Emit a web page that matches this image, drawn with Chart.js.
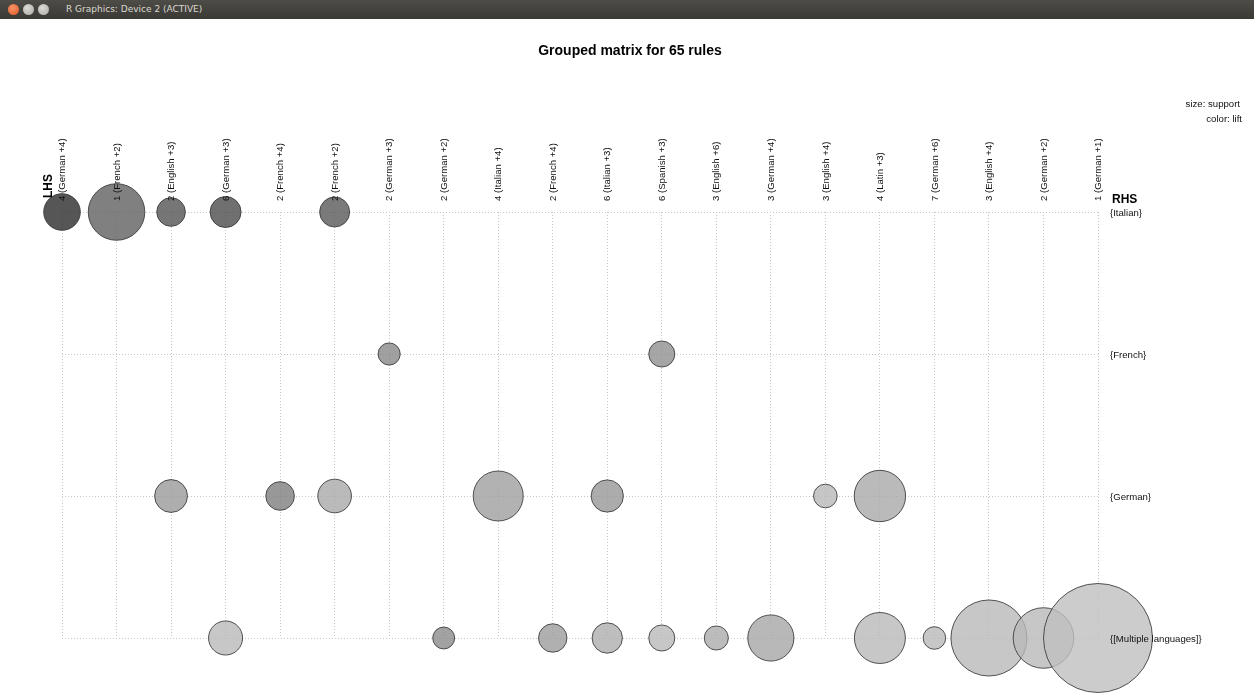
<!DOCTYPE html>
<html>
<head>
<meta charset="utf-8">
<title>Grouped matrix for 65 rules</title>
<script src="https://cdn.jsdelivr.net/npm/chart.js@4.4.1/dist/chart.umd.min.js"></script>
<style>
  html, body { margin: 0; padding: 0; background: #ffffff; }
  #wrap { position: relative; width: 1254px; height: 694px; overflow: hidden; }
  #bar {
    position: absolute; left: 0; top: 0; width: 1254px; height: 19px;
    background: linear-gradient(#4d4c47, #3a3935);
    font: 9px "DejaVu Sans", sans-serif; color: #dcd9d0;
  }
  #bar .btn { position: absolute; top: 4px; width: 11px; height: 11px; border-radius: 50%; }
  #bar .close { left: 8px; background: radial-gradient(circle at 40% 35%, #f7936a, #e0571f); }
  #bar .min { left: 23px; background: radial-gradient(circle at 40% 35%, #dcdbd6, #a9a8a2); }
  #bar .max { left: 38px; background: radial-gradient(circle at 40% 35%, #dcdbd6, #a9a8a2); }
  #bar .cap { position: absolute; left: 66px; top: 4px; }
  canvas { position: absolute; left: 0; top: 0; }
</style>
</head>
<body>
<div id="wrap">
  <canvas id="c" width="1254" height="694"></canvas>
  <div id="bar"><span class="btn close"></span><span class="btn min"></span><span class="btn max"></span><span class="cap">R Graphics: Device 2 (ACTIVE)</span></div>
</div>
<script>
// LHS groups (columns) and RHS items (rows)
const lhsLabels = [
  "4 (German +4)", "1 (French +2)", "2 (English +3)", "6 (German +3)", "2 (French +4)",
  "2 (French +2)", "2 (German +3)", "2 (German +2)", "4 (Italian +4)", "2 (French +4)",
  "6 (Italian +3)", "6 (Spanish +3)", "3 (English +6)", "3 (German +4)", "3 (English +4)",
  "4 (Latin +3)", "7 (German +6)", "3 (English +4)", "2 (German +2)", "1 (German +1)"
];
const rhsLabels = ["{Italian}", "{French}", "{German}", "{[Multiple languages]}"];

// Rule groups per RHS: column index, support, lift
const italianCols    = [0, 1, 2, 3, 5];
const italianSupport = [0.00134, 0.0032, 0.00082, 0.00096, 0.0009];
const italianLift    = [3.95, 2.9, 3.15, 3.3, 3.05];

const frenchCols    = [6, 11];
const frenchSupport = [0.00049, 0.00068];
const frenchLift    = [2.1, 1.95];

const germanCols    = [2, 4, 5, 8, 10, 14, 15];
const germanSupport = [0.00108, 0.00082, 0.00113, 0.0025, 0.00104, 0.00056, 0.00264];
const germanLift    = [1.75, 2.3, 1.45, 1.65, 1.8, 1.15, 1.45];

const multiCols    = [3, 7, 9, 10, 11, 12, 13, 15, 16, 17, 18, 19];
const multiSupport = [0.00116, 0.00048, 0.00081, 0.00092, 0.00068, 0.00058, 0.00213, 0.0026, 0.00051, 0.00578, 0.00367, 0.01188];
const multiLift    = [1.12, 2.05, 1.7, 1.35, 1.12, 1.4, 1.5, 1.12, 1.12, 1.12, 1.12, 1.0];

// size: support (area proportional), color: lift (darker = higher)
const SIZE_K = 500;
const FILL_ALPHA = 0.8;
function radiusOf(s) { return SIZE_K * Math.sqrt(s); }
function colorOf(lift) {
  const g = 204 - (lift - 1) * 40;             // shade as seen on white
  const base = Math.round(255 - (255 - g) / FILL_ALPHA);
  return `rgba(${base},${base},${base},${FILL_ALPHA})`;
}
function rowDataset(rowIdx, cols, support, lift) {
  return {
    data: cols.map((c, i) => ({ x: c, y: rowIdx, r: radiusOf(support[i]) })),
    backgroundColor: lift.map(colorOf),
    borderColor: 'rgba(55,55,55,0.85)',
    borderWidth: 1,
    clip: false
  };
}

const FONT = '"Liberation Sans", Arial, sans-serif';

const matrixText = {
  id: 'matrixText',
  afterDatasetsDraw(chart) {
    const ctx = chart.ctx;
    const xs = chart.scales.x, ys = chart.scales.y;
    ctx.save();
    // title
    ctx.fillStyle = '#000';
    ctx.font = 'bold 14px ' + FONT;
    ctx.textAlign = 'center';
    ctx.textBaseline = 'alphabetic';
    ctx.fillText('Grouped matrix for 65 rules', 630, 55);

    // legend note
    ctx.font = '9.6px ' + FONT;
    ctx.fillStyle = '#111';
    ctx.textAlign = 'right';
    ctx.textBaseline = 'middle';
    ctx.fillText('size: support', 1240, 104);
    ctx.fillText('color: lift', 1242, 119);

    // column labels (LHS groups), rotated
    const top = chart.chartArea.top;
    lhsLabels.forEach((lab, i) => {
      const x = xs.getPixelForValue(i);
      ctx.save();
      ctx.translate(x + 0.5, top - 11);
      ctx.rotate(-Math.PI / 2);
      ctx.textAlign = 'left';
      ctx.textBaseline = 'middle';
      ctx.font = '9.6px ' + FONT;
      ctx.fillStyle = '#111';
      ctx.fillText(lab, 0, 0);
      ctx.restore();
    });

    // axis headers
    ctx.font = 'bold 12px ' + FONT;
    ctx.fillStyle = '#000';
    ctx.save();
    ctx.translate(48.5, top - 14);
    ctx.rotate(-Math.PI / 2);
    ctx.textAlign = 'left';
    ctx.textBaseline = 'middle';
    ctx.fillText('LHS', 0, 0);
    ctx.restore();
    ctx.textAlign = 'left';
    ctx.textBaseline = 'middle';
    ctx.fillText('RHS', 1112, top - 12);

    // row labels (RHS)
    ctx.font = '9.6px ' + FONT;
    ctx.fillStyle = '#111';
    rhsLabels.forEach((lab, j) => {
      ctx.fillText(lab, chart.chartArea.right + 12, ys.getPixelForValue(j) + 1);
    });
    ctx.restore();
  }
};

new Chart(document.getElementById('c'), {
  type: 'bubble',
  data: {
    datasets: [
      rowDataset(0, italianCols, italianSupport, italianLift),
      rowDataset(1, frenchCols, frenchSupport, frenchLift),
      rowDataset(2, germanCols, germanSupport, germanLift),
      rowDataset(3, multiCols, multiSupport, multiLift)
    ]
  },
  options: {
    responsive: false,
    animation: false,
    events: [],
    devicePixelRatio: 1,
    layout: { padding: { left: 62, right: 156, top: 212, bottom: 56 } },
    plugins: { legend: { display: false }, tooltip: { enabled: false }, title: { display: false } },
    scales: {
      x: {
        type: 'linear', min: 0, max: lhsLabels.length - 1,
        ticks: { display: false, stepSize: 1 },
        grid: { color: '#c8c8c8', lineWidth: 1, drawTicks: false },
        border: { display: false, dash: [1, 2] }
      },
      y: {
        type: 'linear', min: 0, max: rhsLabels.length - 1, reverse: true,
        ticks: { display: false, stepSize: 1 },
        grid: { color: '#c8c8c8', lineWidth: 1, drawTicks: false },
        border: { display: false, dash: [1, 2] }
      }
    }
  },
  plugins: [matrixText]
});
</script>
</body>
</html>
